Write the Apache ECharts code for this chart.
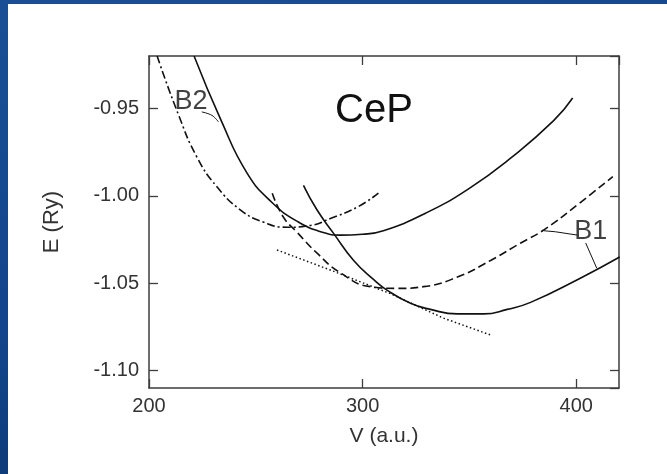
<!DOCTYPE html>
<html>
<head>
<meta charset="utf-8">
<title>CeP</title>
<script src="https://cdn.jsdelivr.net/npm/echarts@6/dist/echarts.min.js"></script>
<style>
    html, body { margin: 0; padding: 0; }
    body {
        width: 667px; height: 474px; position: relative; overflow: hidden;
        background: linear-gradient(165deg, #1a4f96 0%, #114489 55%, #0a2f62 100%);
    }
    #paper { position: absolute; left: 8px; top: 4px; right: 0; bottom: 0; background: #fff; }
    #main { position: absolute; left: 0; top: 0; width: 667px; height: 474px; }
</style>
</head>
<body>
<div id="paper"></div>
<div id="main"></div>
<script>
    //values: V in a.u., E in Ry

    var upperSolidV = [221.1, 233.8, 245.9, 257.7, 269.9, 281.6, 289.5, 299.9, 309.7, 329.4, 349.6, 369.7, 389.4, 398.3];
    var upperSolidE = [-0.920, -0.957, -0.987, -1.004, -1.015, -1.021, -1.0225, -1.022, -1.020, -1.010, -0.996, -0.978, -0.957, -0.944];

    var upperDashV = [203.8, 213.6, 222.5, 231.9, 242.7, 253.4, 264.7, 275.5, 284.9, 297.5, 307.4];
    var upperDashE = [-0.920, -0.953, -0.978, -0.995, -1.008, -1.015, -1.018, -1.017, -1.013, -1.0065, -0.9985];

    var lowerDashV = [257.7, 262.8, 269.4, 278.8, 289.5, 303.6, 316.3, 328.5, 344.4, 359.9, 374.0, 384.7, 400.7, 417.1];
    var lowerDashE = [-0.9985, -1.012, -1.021, -1.033, -1.044, -1.052, -1.053, -1.052, -1.0465, -1.037, -1.027, -1.0196, -1.005, -0.989];

    var lowerSolidV = [272.3, 278.6, 286.4, 295.8, 305.2, 311.4, 322.4, 331.7, 344.3, 356.7, 367.7, 378.6, 402.1, 420.3];
    var lowerSolidE = [-0.994, -1.008, -1.0215, -1.037, -1.048, -1.054, -1.0615, -1.065, -1.0676, -1.0676, -1.065, -1.061, -1.047, -1.035];

    var tangentV = [259.9, 284.9, 313.0, 337.8, 360.7];
    var tangentE = [-1.031, -1.0425, -1.056, -1.070, -1.080];

    // leader lines from the B1 / B2 labels
    var b2LeaderV = [224.7, 229.5, 232.5];
    var b2LeaderE = [-0.952, -0.954, -0.9577];
    var b1LeaderAV = [384.9, 390.3, 400.5];
    var b1LeaderAE = [-1.020, -1.0206, -1.0225];
    var b1LeaderBV = [404.4, 409.6];
    var b1LeaderBE = [-1.027, -1.0415];

    var labelV = [219.7, 406.8];
    var labelE = [-0.9459, -1.0202];
    var labelText = ['B2', 'B1'];

    var vMin = 200, vMax = 420, vStep = 100;
    var eMin = -1.11, eMax = -0.92;

    function pairs(xs, ys) {
        var out = [];
        for (var i = 0; i < xs.length; i++) {
            out.push([xs[i], ys[i]]);
        }
        return out;
    }

    var ink = '#111';
    var axisColor = '#3c3c3c';
    var font = 'Liberation Sans, Arial, sans-serif';

    function curve(name, xs, ys, type, width, smooth) {
        return {
            name: name,
            type: 'line',
            data: pairs(xs, ys),
            showSymbol: false,
            symbol: 'none',
            smooth: smooth,
            silent: true,
            lineStyle: {color: ink, width: width, type: type}
        };
    }

    function xAxisCfg(pos, labels) {
        return {
            type: 'value', position: pos,
            min: vMin, max: vMax, interval: vStep,
            name: labels ? 'V (a.u.)' : '',
            nameLocation: 'middle', nameGap: 38,
            nameTextStyle: {color: '#333', fontSize: 21, fontFamily: font},
            axisLine: {show: true, lineStyle: {color: axisColor, width: 1.5}},
            axisTick: {show: true, inside: true, length: 9, lineStyle: {color: axisColor, width: 1.3}},
            axisLabel: {show: labels, margin: 8, color: '#333', fontSize: 20, fontFamily: font, showMaxLabel: false},
            splitLine: {show: false}
        };
    }

    function yAxisCfg(pos, labels) {
        return {
            type: 'value', position: pos,
            min: eMin, max: eMax, splitNumber: 4,
            name: labels ? 'E (Ry)' : '',
            nameLocation: 'middle', nameGap: 86, nameRotate: 90,
            nameTextStyle: {color: '#333', fontSize: 22, fontFamily: font},
            axisLine: {show: true, onZero: false, lineStyle: {color: axisColor, width: 1.5}},
            axisTick: {show: true, inside: true, length: 9, lineStyle: {color: axisColor, width: 1.3}},
            axisLabel: {
                show: labels, margin: 10, color: '#333', fontSize: 20, fontFamily: font,
                showMinLabel: false, showMaxLabel: false,
                formatter: function (v) { return v.toFixed(2); }
            },
            splitLine: {show: false}
        };
    }

    var chart = echarts.init(document.getElementById('main'));

    var option = {
        animation: false,
        backgroundColor: 'transparent',
        title: {
            text: 'CeP', left: 330, top: 86,
            textStyle: {color: ink, fontSize: 40, fontWeight: 'normal', fontFamily: font}
        },
        grid: {left: 149, right: 48, top: 56, bottom: 86},
        xAxis: [xAxisCfg('bottom', true), xAxisCfg('top', false)],
        yAxis: [yAxisCfg('left', true), yAxisCfg('right', false)],
        series: [
            curve('upperSolid', upperSolidV, upperSolidE, 'solid', 1.6, 0.5),
            curve('upperDash', upperDashV, upperDashE, [8, 3, 2, 3], 1.6, 0.5),
            curve('lowerDash', lowerDashV, lowerDashE, [8, 4], 1.6, 0.5),
            curve('lowerSolid', lowerSolidV, lowerSolidE, 'solid', 1.6, 0.5),
            curve('tangent', tangentV, tangentE, [1.5, 2.5], 1.5, false),
            curve('b2Leader', b2LeaderV, b2LeaderE, 'solid', 1, 0.4),
            curve('b1LeaderA', b1LeaderAV, b1LeaderAE, 'solid', 1, false),
            curve('b1LeaderB', b1LeaderBV, b1LeaderBE, 'solid', 1, false),
            {
                name: 'labels',
                type: 'scatter',
                symbolSize: 0,
                silent: true,
                data: pairs(labelV, labelE).map(function (p, i) {
                    return {value: p, name: labelText[i]};
                }),
                label: {
                    show: true, position: 'inside',
                    formatter: '{b}',
                    color: ink, fontSize: 27, fontFamily: font
                }
            }
        ]
    };

    chart.setOption(option);
</script>
</body>
</html>
